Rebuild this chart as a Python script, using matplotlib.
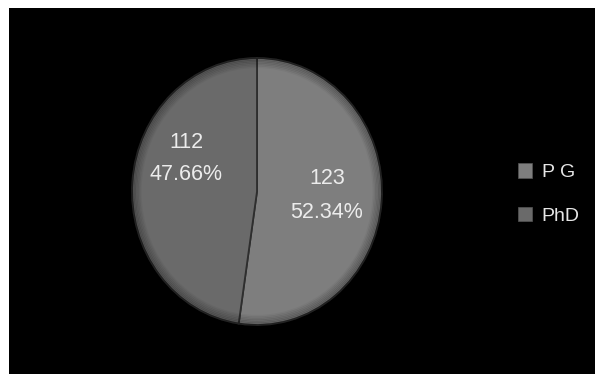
import matplotlib.pyplot as plt

# --- Data ---
labels = ["P G", "PhD"]
counts = [123, 112]
percents = ["52.34%", "47.66%"]
colors = ["#7e7e7e", "#6a6a6a"]

W, H = 595, 374
XS = 0.936  # pie looks a bit squeezed horizontally in the original

fig = plt.figure(figsize=(W / 100, H / 100), dpi=100)
fig.patch.set_facecolor("white")

# black plot area, data units = pixels (x stretched by 1/XS)
ax = fig.add_axes([9 / W, 0, 586 / W, 366 / H])

cx, cy, r = (257 - 9) / XS, 374 - 191.5, 133.5

wedges, _ = ax.pie(counts, colors=colors, startangle=90, counterclock=False,
                   center=(cx, cy), radius=r, frame=True,
                   wedgeprops=dict(edgecolor="#2e2e2e", linewidth=1.3))

# darker rim shading
for k in range(7):
    ax.pie([1], colors=["none"], center=(cx, cy), radius=r - k * 1.5, frame=True,
           wedgeprops=dict(edgecolor="black", linewidth=1.6,
                           alpha=0.22 - k * 0.03, fill=False))

ax.set_facecolor("black")
ax.set_xlim(0, 586 / XS)
ax.set_ylim(0, 366)
ax.set_aspect("auto")
ax.set_xticks([])
ax.set_yticks([])
for s in ax.spines.values():
    s.set_visible(False)

txt = dict(color="#ececec", fontsize=15.5, ha="center", va="center",
           family="Liberation Sans", linespacing=1.75)
ax.text((327 - 9) / XS, 374 - 195.5, f"{counts[0]}\n{percents[0]}", **txt)
ax.text((186 - 9) / XS, 374 - 158.5, f"{counts[1]}\n{percents[1]}", **txt)

leg = fig.legend(wedges, labels, loc="center left",
                 bbox_to_anchor=(500 / W, 1 - 194 / H), frameon=False,
                 labelcolor="#e6e6e6", handlelength=0.75,
                 handleheight=0.75, handletextpad=0.5, labelspacing=1.3,
                 prop=dict(family="Liberation Sans", size=14))
for h in leg.legend_handles:
    h.set_edgecolor("#555555")
    h.set_linewidth(0.5)

plt.savefig("out.png", dpi=100, facecolor=fig.get_facecolor())
